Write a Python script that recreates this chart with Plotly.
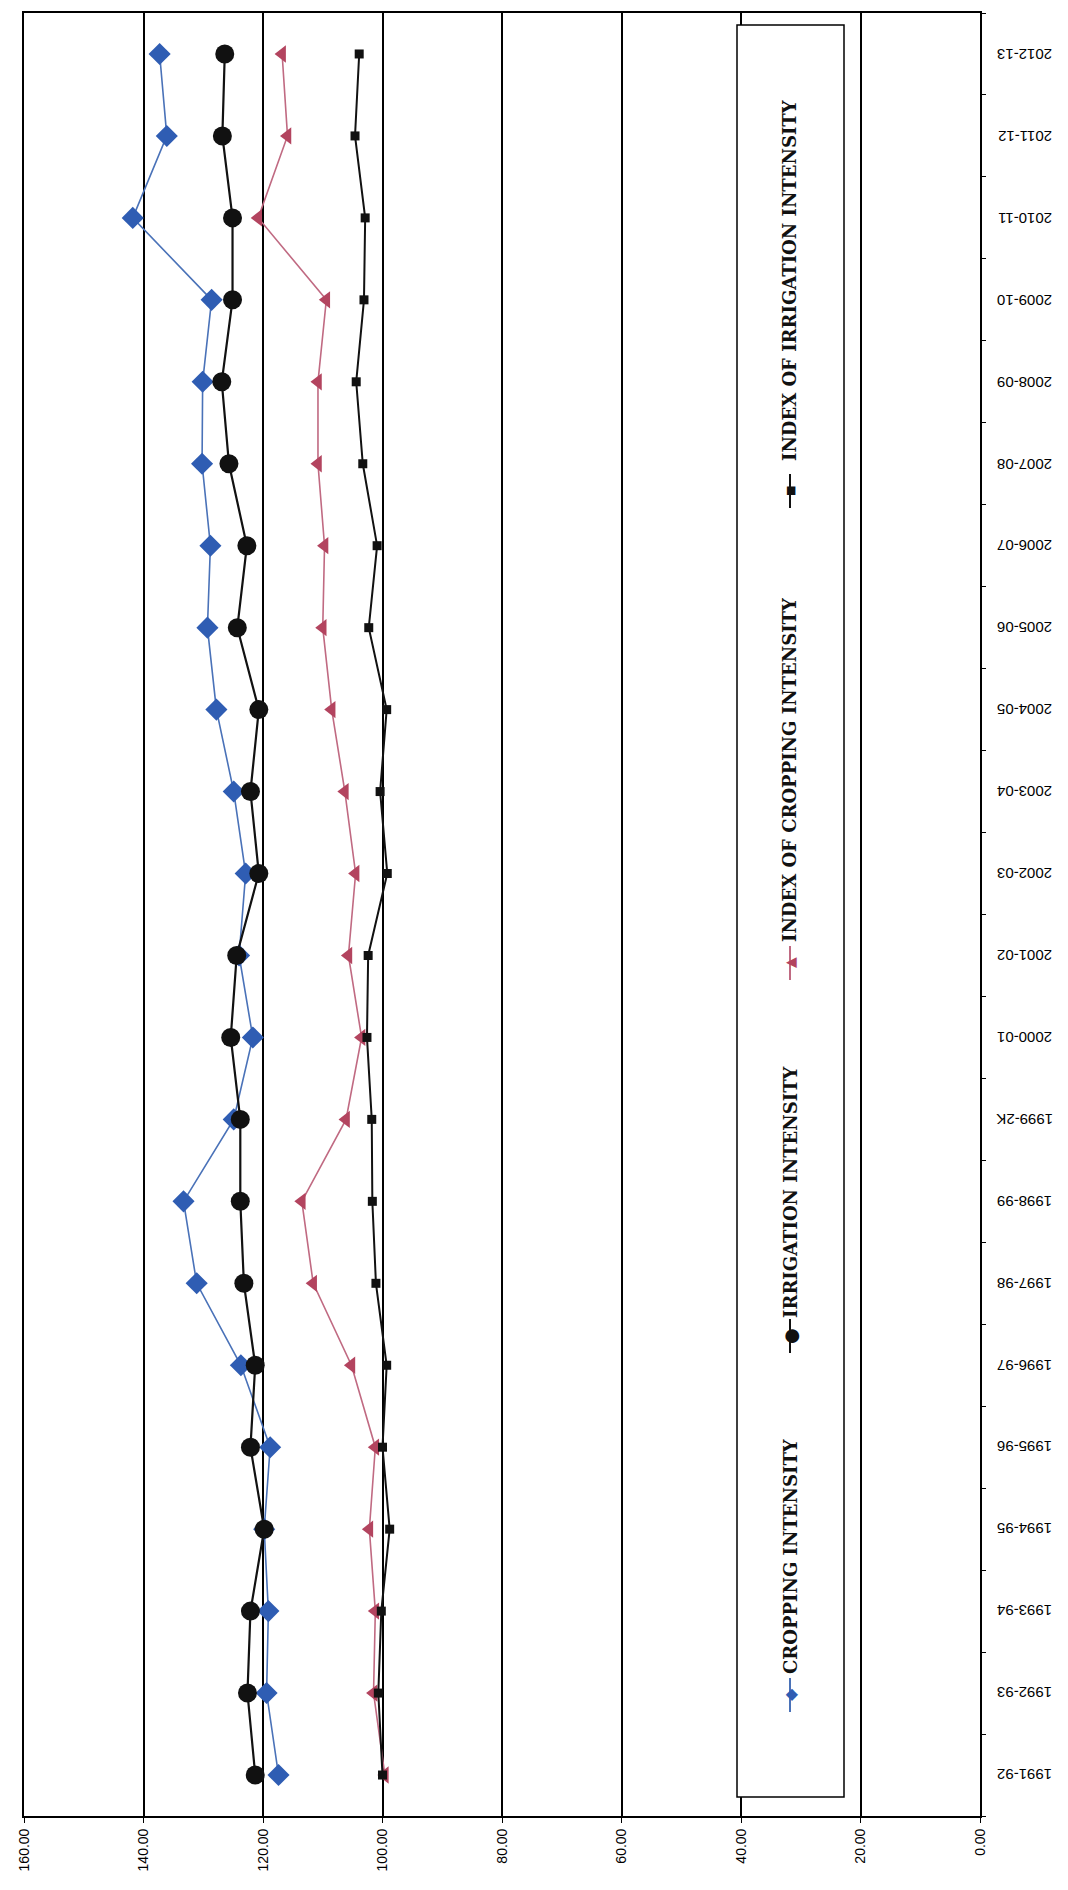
import plotly.graph_objects as go

years = ["1991-92", "1992-93", "1993-94", "1994-95", "1995-96", "1996-97", "1997-98",
         "1998-99", "1999-2K", "2000-01", "2001-02", "2002-03", "2003-04", "2004-05",
         "2005-06", "2006-07", "2007-08", "2008-09", "2009-10", "2010-11", "2011-12", "2012-13"]

cropping_intensity = [117.4, 119.4, 119.1, 119.8, 118.8, 123.7, 131.1, 133.3, 124.9, 121.7, 124.0,
                      122.9, 124.9, 127.8, 129.3, 128.8, 130.2, 130.1, 128.6, 141.8, 136.1, 137.3]
irrigation_intensity = [121.3, 122.6, 122.1, 119.8, 122.1, 121.3, 123.2, 123.8, 123.8, 125.4, 124.4,
                        120.7, 122.1, 120.7, 124.3, 122.7, 125.7, 126.9, 125.1, 125.1, 126.8, 126.4]
index_cropping = [99.6, 101.5, 101.2, 102.2, 101.2, 105.2, 111.6, 113.5, 106.1, 103.5, 105.7,
                  104.5, 106.3, 108.5, 110.0, 109.7, 110.8, 110.8, 109.4, 120.8, 115.9, 116.8]
index_irrigation = [100.0, 100.7, 100.2, 98.8, 100.0, 99.3, 101.1, 101.7, 101.8, 102.6, 102.4,
                    99.2, 100.4, 99.3, 102.3, 100.9, 103.3, 104.4, 103.1, 102.9, 104.6, 103.9]

value_ticks = [160, 140, 120, 100, 80, 60, 40, 20, 0]

series_names = ["CROPPING INTENSITY", "IRRIGATION INTENSITY",
                "INDEX OF CROPPING INTENSITY", "INDEX OF IRRIGATION INTENSITY"]

BLUE = "#2F5DB3"
BLUE_LINE = "#4A72B8"
RED = "#B3445F"
RED_LINE = "#C06A82"
BLACK = "#111111"

fig = go.Figure()
fig.add_trace(go.Scatter(x=cropping_intensity, y=years, mode="lines+markers",
                         name=series_names[0],
                         line=dict(color=BLUE_LINE, width=1.6),
                         marker=dict(symbol="diamond", size=17, color=BLUE)))
fig.add_trace(go.Scatter(x=irrigation_intensity, y=years, mode="lines+markers",
                         name=series_names[1],
                         line=dict(color=BLACK, width=2.2),
                         marker=dict(symbol="circle", size=19, color=BLACK)))
fig.add_trace(go.Scatter(x=index_cropping, y=years, mode="lines+markers",
                         name=series_names[2],
                         line=dict(color=RED_LINE, width=1.6),
                         marker=dict(symbol="triangle-left", size=15, color=RED)))
fig.add_trace(go.Scatter(x=index_irrigation, y=years, mode="lines+markers",
                         name=series_names[3],
                         line=dict(color=BLACK, width=2),
                         marker=dict(symbol="square", size=9, color=BLACK)))

L, R, T, B = 16, 96, 5, 82
W, H = 1068, 1890
PW = W - L - R
PH = H - T - B


def pxx(p):
    return (p - L) / PW


def pxy(p):
    return (H - B - p) / PH


shapes = []
annotations = []

# legend box
shapes.append(dict(type="rect", xref="paper", yref="paper",
                   x0=pxx(729), x1=pxx(836), y0=pxy(1789), y1=pxy(17),
                   line=dict(color="black", width=1.5), fillcolor="white", layer="above"))

legend_x = 782
legend_items = [
    (series_names[0], 1548, 1687, "◆", BLUE, BLUE_LINE, 16),
    (series_names[1], 1184, 1328, "●", BLACK, BLACK, 18),
    (series_names[2], 762, 955, "▲", RED, RED_LINE, 14),
    (series_names[3], 272, 483, "■", BLACK, BLACK, 11),
]
for name, tc, sc, glyph, col, lcol, gsize in legend_items:
    shapes.append(dict(type="line", xref="paper", yref="paper",
                       x0=pxx(legend_x), x1=pxx(legend_x), y0=pxy(sc - 17), y1=pxy(sc + 17),
                       line=dict(color=lcol, width=2), layer="above"))
    annotations.append(dict(xref="paper", yref="paper", x=pxx(legend_x), y=pxy(sc),
                            text=glyph, showarrow=False, textangle=-90,
                            font=dict(size=gsize, color=col, family="DejaVu Sans"),
                            xanchor="center", yanchor="middle"))
    annotations.append(dict(xref="paper", yref="paper", x=pxx(legend_x), y=pxy(tc),
                            text="<b>" + name + "</b>", showarrow=False, textangle=-90,
                            font=dict(size=18, color="#111111", family="DejaVu Serif"),
                            xanchor="center", yanchor="middle"))

# category labels (upside-down, right of the axis)
for yr in years:
    annotations.append(dict(xref="paper", yref="y", x=pxx(1017), y=yr,
                            text=yr, showarrow=False, textangle=180,
                            font=dict(size=15, color="black", family="Liberation Sans, Arial"),
                            xanchor="center", yanchor="middle"))

fig.update_layout(
    width=W, height=H,
    margin=dict(l=L, r=R, t=T, b=B, autoexpand=False),
    paper_bgcolor="white", plot_bgcolor="white",
    showlegend=False,
    shapes=shapes,
    annotations=annotations,
    font=dict(family="Liberation Sans, Arial", color="black"),
)

fig.update_xaxes(range=[160, 0], tickmode="array", tickvals=value_ticks,
                 ticktext=[f"{v:.2f}" for v in value_ticks],
                 tickangle=-90, tickfont=dict(size=14, family="Liberation Sans, Arial", color="black"),
                 showgrid=True, gridcolor="black", gridwidth=1.5,
                 showline=True, linecolor="black", linewidth=2, mirror=True,
                 ticks="outside", ticklen=5, tickcolor="black", zeroline=False,
                 automargin=False)

fig.update_yaxes(type="category", categoryorder="array", categoryarray=years,
                 range=[-0.5, len(years) - 0.5], side="right",
                 tickson="boundaries", ticks="outside", ticklen=4, tickcolor="black",
                 showticklabels=False,
                 showgrid=False, showline=True, linecolor="black", linewidth=2, mirror=True,
                 zeroline=False, automargin=False)

fig.write_html("out.html")
